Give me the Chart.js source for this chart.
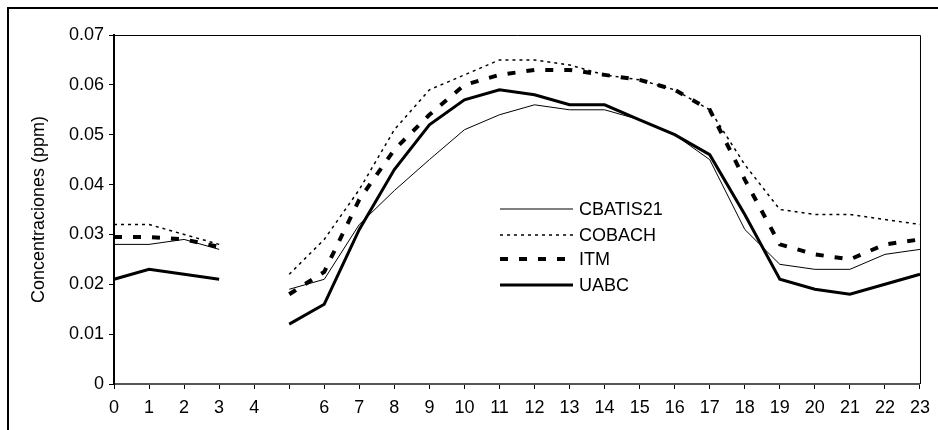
<!DOCTYPE html>
<html>
<head>
<meta charset="utf-8">
<script src="https://cdn.jsdelivr.net/npm/chart.js@4"></script>
<style>
    html, body { margin: 0; padding: 0; background: #fff; overflow: hidden; }
    #wrap { position: relative; width: 938px; height: 430px; }
    #frame { position: absolute; left: 7px; top: 7px; width: 1000px; height: 1000px;
             border-left: 2px solid #000; border-top: 2px solid #000; pointer-events: none; }
    canvas { position: absolute; left: 0; top: 0; }
</style>
</head>
<body>
<div id="wrap">
    <canvas id="chart" width="938" height="430"></canvas>
    <div id="frame"></div>
</div>
<script>
const HOURS  = ['0','1','2','3','4','','6','7','8','9','10','11','12','13','14','15','16','17','18','19','20','21','22','23'];
const Y_TICKS = [0, 0.01, 0.02, 0.03, 0.04, 0.05, 0.06, 0.07];

const CBATIS21 = [0.028, 0.028, 0.029, 0.027, null, 0.019, 0.021, 0.032, 0.0388, 0.045, 0.051, 0.054, 0.056, 0.055, 0.055,
                  0.053, 0.050, 0.045, 0.031, 0.024, 0.023, 0.023, 0.026, 0.027];
const COBACH   = [0.032, 0.032, 0.030, 0.028, null, 0.022, 0.029, 0.039, 0.051, 0.059, 0.062, 0.065, 0.065, 0.064, 0.062,
                  0.061, 0.059, 0.055, 0.044, 0.035, 0.034, 0.034, 0.033, 0.032];
const ITM      = [0.0295, 0.0295, 0.029, 0.0275, null, 0.018, 0.0225, 0.037, 0.047, 0.054, 0.060, 0.062, 0.063, 0.063, 0.062,
                  0.061, 0.059, 0.055, 0.041, 0.028, 0.026, 0.025, 0.028, 0.029];
const UABC     = [0.021, 0.023, 0.022, 0.021, null, 0.012, 0.016, 0.031, 0.043, 0.052, 0.057, 0.059, 0.058, 0.056, 0.056,
                  0.053, 0.050, 0.046, 0.034, 0.021, 0.019, 0.018, 0.020, 0.022];

const FONT = 'Liberation Sans, Arial, sans-serif';
const FSIZE = 18;

function series(label, data, width, dash) {
    return {
        label, data,
        borderColor: '#000', backgroundColor: '#000',
        borderWidth: width, borderDash: dash, borderCapStyle: 'butt',
        pointRadius: 0, tension: 0, spanGaps: false, fill: false,
    };
}

// marco del área de trazado + leyenda dentro del gráfico
const framePlugin = {
    id: 'frame',
    afterDraw(chart) {
        const { ctx, chartArea: a } = chart;
        ctx.save();
        ctx.strokeStyle = '#000';
        ctx.lineWidth = 1;
        ctx.beginPath();
        ctx.moveTo(a.left, a.top + 0.5); ctx.lineTo(a.right + 0.5, a.top + 0.5); ctx.lineTo(a.right + 0.5, a.bottom);
        ctx.stroke();

        const x0 = 500, x1 = 573, tx = 579, rows = [209, 235, 259, 285];
        ctx.font = FSIZE + 'px ' + FONT;
        ctx.textBaseline = 'middle';
        ctx.fillStyle = '#000';
        chart.data.datasets.forEach((ds, i) => {
            const y = rows[i];
            ctx.lineWidth = ds.borderWidth;
            ctx.setLineDash(ds.borderDash || []);
            ctx.lineCap = 'butt';
            ctx.beginPath(); ctx.moveTo(x0, y); ctx.lineTo(x1, y); ctx.stroke();
            ctx.setLineDash([]);
            ctx.fillText(ds.label, tx, y + 1);
        });
        ctx.restore();
    },
};

new Chart(document.getElementById('chart'), {
    type: 'line',
    data: {
        labels: HOURS,
        datasets: [
            series('CBATIS21', CBATIS21, 1, []),
            series('COBACH', COBACH, 1.5, [3, 4]),
            series('ITM', ITM, 4, [8, 11]),
            series('UABC', UABC, 3, []),
        ],
    },
    options: {
        responsive: false,
        animation: false,
        layout: { padding: { top: 35, right: 17, bottom: 0, left: 0 } },
        plugins: { legend: { display: false }, tooltip: { enabled: false } },
        scales: {
            x: {
                offset: false,
                grid: { display: true, drawOnChartArea: false, drawTicks: true, tickLength: 5, color: '#000' },
                border: { display: true, color: '#555', width: 2 },
                ticks: { color: '#000', font: { family: FONT, size: FSIZE }, maxRotation: 0, autoSkip: false, padding: 8 },
                afterFit(s) { s.height = 46; },
            },
            y: {
                min: 0, max: 0.07,
                afterBuildTicks(s) { s.ticks = Y_TICKS.map(v => ({ value: v })); },
                grid: { display: true, drawOnChartArea: false, drawTicks: true, tickLength: 5, color: '#000' },
                border: { display: true, color: '#000', width: 2 },
                ticks: { color: '#000', font: { family: FONT, size: FSIZE }, padding: 5, callback: v => String(Number(v.toFixed(2))) },
                title: { display: true, text: 'Concentraciones (ppm)', color: '#000', font: { family: FONT, size: FSIZE }, padding: { top: 28, bottom: 0 } },
                afterFit(s) { s.width = 114; },
            },
        },
    },
    plugins: [framePlugin],
});
</script>
</body>
</html>
